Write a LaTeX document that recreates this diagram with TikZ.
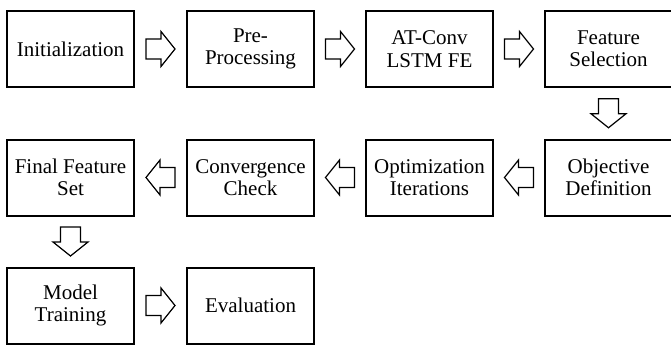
\documentclass[tikz,border=0pt]{standalone}
\usepackage{fontspec}
\setmainfont{Liberation Serif}
\usetikzlibrary{calc}

\tikzset{
  stepbox/.style={draw, line width=1pt, minimum width=63.5pt, minimum height=38pt,
    inner sep=1pt, align=center, font=\fontsize{10.5}{11.2}\selectfont},
  blockarrow/.pic={
    \draw[line width=0.6pt, line join=miter]
      (-14.5,-10) -- (0.5,-10) -- (0.5,-17.5) -- (14.5,0) -- (0.5,17.5) -- (0.5,10) -- (-14.5,10) -- cycle;
  }
}

\begin{document}
\begin{tikzpicture}[x=0.5pt, y=-0.5pt]
  \useasboundingbox (0,0) rectangle (671,345);

  % First row, left to right
  \node[stepbox] (init) at (70.5,49) {Initialization};
  \node[stepbox] (prep) at (250.5,49) {Pre-\\Processing};
  \node[stepbox] (fe) at (429.5,49) {AT-Conv\\LSTM FE};
  \node[stepbox] (sel) at (608.5,49) {Feature\\Selection};

  % Second row, right to left
  \node[stepbox] (obj) at (608.5,177.5) {Objective\\Definition};
  \node[stepbox] (opt) at (429.5,177.5) {Optimization\\Iterations};
  \node[stepbox] (conv) at (250.5,177.5) {Convergence\\Check};
  \node[stepbox] (final) at (70.5,177.5) {Final Feature\\Set};

  % Third row
  \node[stepbox] (train) at (70.5,305.5) {Model\\Training};
  \node[stepbox] (eval) at (250.5,305.5) {Evaluation};

  % Hollow arrows between the steps
  \foreach \a/\b/\r in {init/prep/0, prep/fe/0, fe/sel/0,
                        sel/obj/-90,
                        obj/opt/180, opt/conv/180, conv/final/180,
                        final/train/-90,
                        train/eval/0} {
    \pic[rotate=\r] at ($(\a)!0.5!(\b)$) {blockarrow};
  }
\end{tikzpicture}
\end{document}
